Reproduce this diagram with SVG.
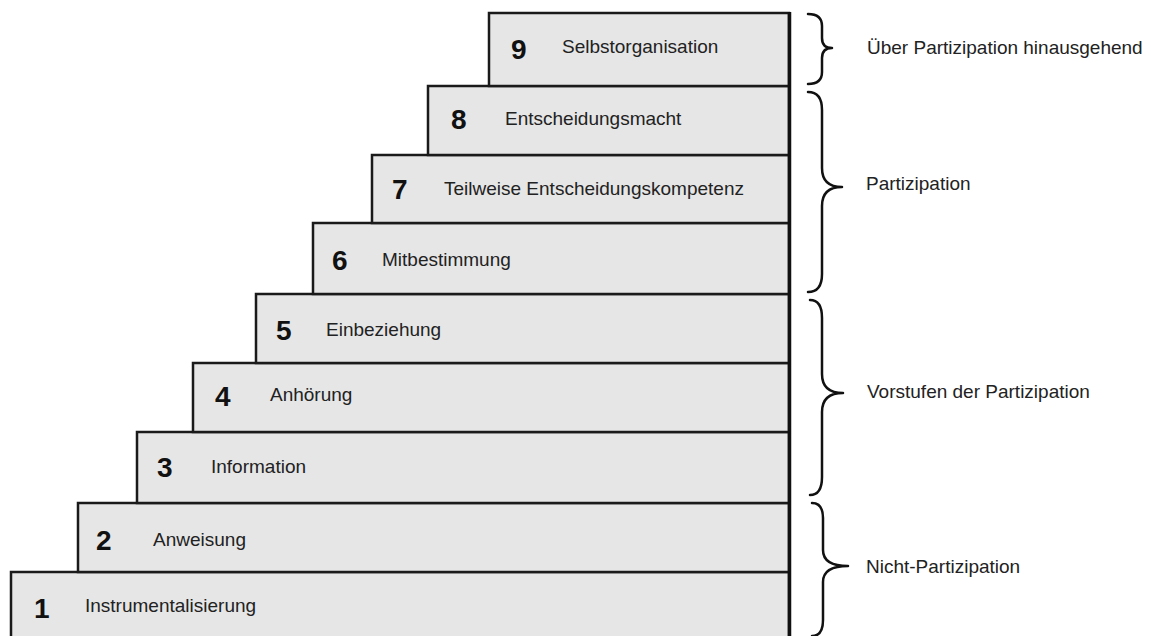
<svg xmlns="http://www.w3.org/2000/svg" width="1151" height="636" viewBox="0 0 1151 636">
<style>
.step{fill:#e6e6e6;stroke:#1a1a1a;stroke-width:2.5}
.edge{stroke:#111;stroke-width:3.5;fill:none}
.num{font-family:"Liberation Sans",Arial,sans-serif;font-weight:bold;font-size:28px;fill:#111}
.lbl{font-family:"Liberation Sans",Arial,sans-serif;font-size:19px;fill:#222}
.brace{fill:none;stroke:#111;stroke-width:2.5;stroke-linecap:round;stroke-linejoin:round}
</style>
<rect width="1151" height="636" fill="#fff"/>
<g id="step1"><rect class="step" x="11" y="572" width="778" height="70"/><text class="num" x="34" y="618">1</text><text class="lbl" x="85" y="612">Instrumentalisierung</text></g>
<g id="step2"><rect class="step" x="78" y="503" width="711" height="69"/><text class="num" x="96" y="550">2</text><text class="lbl" x="153" y="546">Anweisung</text></g>
<g id="step3"><rect class="step" x="137" y="432" width="652" height="71"/><text class="num" x="157" y="477">3</text><text class="lbl" x="211" y="473">Information</text></g>
<g id="step4"><rect class="step" x="193" y="363" width="596" height="69"/><text class="num" x="215" y="406">4</text><text class="lbl" x="270" y="401">Anhörung</text></g>
<g id="step5"><rect class="step" x="256" y="294" width="533" height="69"/><text class="num" x="276" y="340">5</text><text class="lbl" x="326" y="336">Einbeziehung</text></g>
<g id="step6"><rect class="step" x="313" y="223" width="476" height="71"/><text class="num" x="332" y="270">6</text><text class="lbl" x="382" y="266">Mitbestimmung</text></g>
<g id="step7"><rect class="step" x="372" y="155" width="417" height="68"/><text class="num" x="392" y="199">7</text><text class="lbl" x="444" y="195">Teilweise Entscheidungskompetenz</text></g>
<g id="step8"><rect class="step" x="428" y="86" width="361" height="69"/><text class="num" x="451" y="129">8</text><text class="lbl" x="505" y="125">Entscheidungsmacht</text></g>
<g id="step9"><rect class="step" x="489" y="13" width="300" height="73"/><text class="num" x="511" y="59">9</text><text class="lbl" x="562" y="53">Selbstorganisation</text></g>
<line class="edge" x1="789.5" y1="12" x2="789.5" y2="636"/>
<g id="braces">
<path class="brace" d="M808,14 Q822,14 822,26 L822,38 Q822,48 832,48 Q822,48 822,58 L822,72 Q822,84 808,84"/>
<path class="brace" d="M808,92 Q822,92 822,110 L822,168 Q822,187 842,187 Q822,187 822,206 L822,274 Q822,292 808,292"/>
<path class="brace" d="M810,300 Q822,300 822,318 L822,374 Q822,393 843,393 Q822,393 822,412 L822,477 Q822,495 810,495"/>
<path class="brace" d="M812,503 Q823,503 823,518 L823,550 Q823,566 848,566 Q823,566 823,582 L823,620 Q823,636 812,636"/>
</g>
<g id="groups">
<text class="lbl" x="867" y="54">Über Partizipation hinausgehend</text>
<text class="lbl" x="866" y="190">Partizipation</text>
<text class="lbl" x="867" y="398">Vorstufen der Partizipation</text>
<text class="lbl" x="866" y="573">Nicht-Partizipation</text>
</g>
</svg>
